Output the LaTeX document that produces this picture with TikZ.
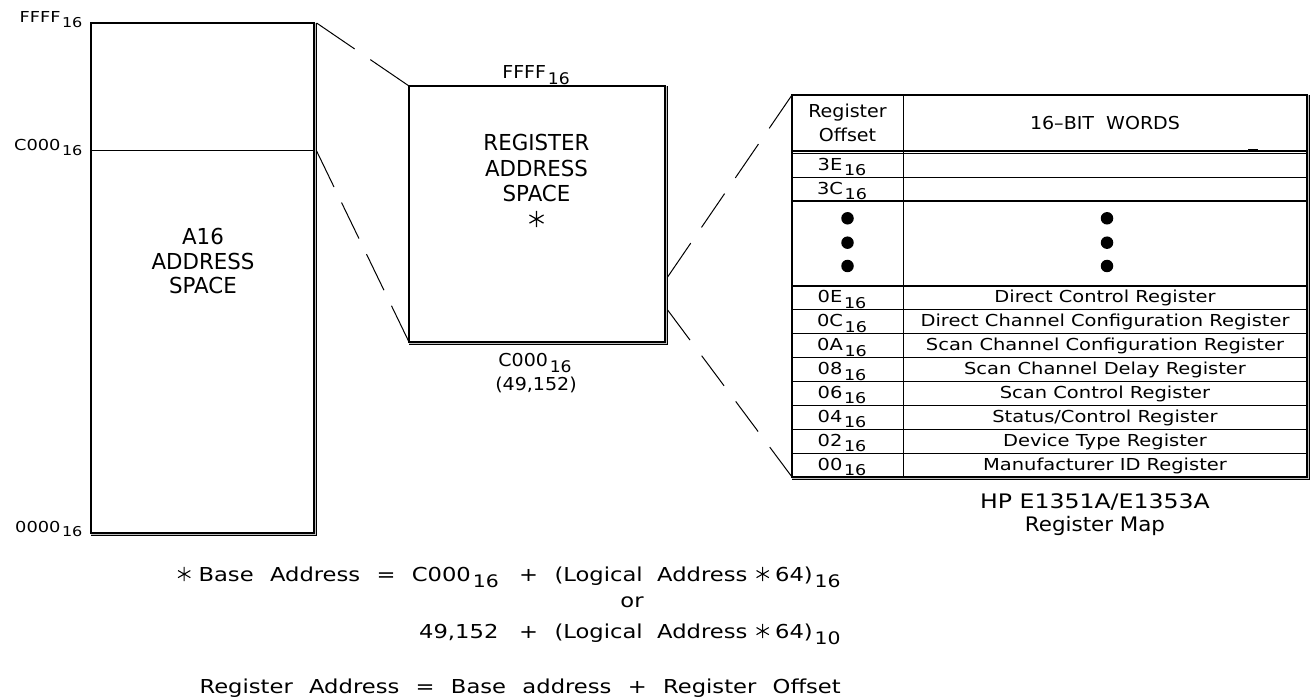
\documentclass[tikz,border=0pt]{standalone}
\usepackage{fontspec}
\usepackage{graphicx}
\setmainfont{DejaVu Sans}[FakeStretch=1.18]
\newfontfamily\capf{DejaVu Sans}[FakeStretch=0.97]
\newfontfamily\midf{DejaVu Sans}[FakeStretch=1.07]
\newcommand\subx[1]{\kern0.1em\raisebox{-0.33em}{\scalebox{0.9}{#1}}}
\newcommand\astk{\tikz[baseline={(0,-0.36em)},x=1em,y=1em,line width=0.055em]{\draw (0,-0.37)--(0,0.37) (-0.32,-0.185)--(0.32,0.185) (-0.32,0.185)--(0.32,-0.185);}}
\newcommand\wsp{\hspace{0.85em}}
\begin{document}
\begin{tikzpicture}[x=1pt,y=-1pt,line width=1.1pt,
  boxs/.style={draw, inner sep=0pt, outer sep=0pt, anchor=north west},
  shadowln/.style={line width=1pt},
  gapfill/.style={gray!50, line width=1.5pt},
  conn/.style={line width=1pt},
  lbl/.style={inner sep=0pt, font=\fontsize{15.1}{18}\selectfont},
  rlbl/.style={inner sep=0pt, font=\midf\fontsize{17.8}{21}\selectfont},
  big/.style={inner sep=0pt, font=\capf\fontsize{22}{26}\selectfont},
  cell/.style={inner sep=0pt, font=\fontsize{16.5}{20}\selectfont},
  hdr/.style={inner sep=0pt, font=\midf\fontsize{17.8}{21}\selectfont},
  capt/.style={inner sep=0pt, font=\fontsize{20}{24}\selectfont},
  captb/.style={inner sep=0pt, font=\midf\fontsize{20}{24}\selectfont},
  frm/.style={inner sep=0pt, font=\fontsize{19.2}{23}\selectfont},
  dot/.style={circle, fill=black, inner sep=0pt, minimum size=12.5pt}
]
\useasboundingbox (0,0) rectangle (1312,700);

% ---------------- A16 box ----------------
\draw[gapfill] (315.3,23) -- (315.3,534.3) -- (91,534.3);
\node[boxs, minimum width=223pt, minimum height=510pt] (a16) at (91,23) {};
\draw[shadowln] (316.6,23) -- (316.6,535.6) -- (91,535.6);
\draw (91,150.7) -- (314,150.7);
\node[lbl, anchor=base east] (lffff) at (83,23) {FFFF\subx{16}};
\node[lbl, anchor=base east] (lc000) at (83,151) {C000\subx{16}};
\node[lbl, anchor=base east] (l0000) at (83,532) {0000\subx{16}};
\node[big, anchor=base] (a16t1) at (203,245) {A16};
\node[big, anchor=base] (a16t2) at (203,270) {ADDRESS};
\node[big, anchor=base] (a16t3) at (203,294) {SPACE};

% ---------------- register box ----------------
\draw[gapfill] (666.3,86) -- (666.3,343.3) -- (409,343.3);
\node[boxs, minimum width=256pt, minimum height=256pt] (reg) at (409,86) {};
\draw[shadowln] (667.6,86) -- (667.6,344.6) -- (409,344.6);
\node[rlbl, anchor=base] (rffff) at (536,79) {FFFF\subx{16}};
\node[rlbl, anchor=base] (rc000) at (535,367) {C000\subx{16}};
\node[rlbl, anchor=base] (rdec) at (536,391) {(49,152)};
\node[big, anchor=base] (rt1) at (536.5,151) {REGISTER};
\node[big, anchor=base] (rt2) at (536.5,176.5) {ADDRESS};
\node[big, anchor=base] (rt3) at (536.5,202) {SPACE};
\node[big, anchor=base] (rt4) at (536.5,227) {\astk};

% ---------------- register map table ----------------
\draw[gapfill] (1308.3,95) -- (1308.3,478.3) -- (792,478.3);
\node[boxs, minimum width=515pt, minimum height=382pt] (tab) at (792,95) {};
\draw[shadowln] (1309.6,95) -- (1309.6,479.6) -- (792,479.6);
\draw (903.3,95) -- (903.3,477);
\draw (792,151) -- (1307,151);
\draw (792,153.4) -- (1307,153.4);
\draw[line width=2pt] (1248,149.6) -- (1258,149.6);
\foreach \yy in {177.3,201,286,309.875,333.75,357.625,381.5,405.375,429.25,453.125}
  \draw (792,\yy) -- (1307,\yy);
\node[hdr, anchor=base] (h1) at (847.5,118) {Register};
\node[hdr, anchor=base] (h2) at (847.5,142) {Offset};
\node[hdr, anchor=base] (h3) at (1105,130) {16–BIT\ \ WORDS};
\node[cell, anchor=base] (o3e) at (842,170.4) {3E\subx{16}};
\node[cell, anchor=base] (o3c) at (842,194.3) {3C\subx{16}};
\node[dot] (d1) at (847.5,218.3) {};
\node[dot] (d2) at (847.5,242.7) {};
\node[dot] (d3) at (847.5,266) {};
\node[dot] (d4) at (1107,218.3) {};
\node[dot] (d5) at (1107,242.7) {};
\node[dot] (d6) at (1107,266) {};
\node[cell, anchor=base] (o0e) at (842,303) {0E\subx{16}};
\node[cell, anchor=base] (o0c) at (842,326.9) {0C\subx{16}};
\node[cell, anchor=base] (o0a) at (842,350.75) {0A\subx{16}};
\node[cell, anchor=base] (o08) at (842,374.6) {08\subx{16}};
\node[cell, anchor=base] (o06) at (842,398.5) {06\subx{16}};
\node[cell, anchor=base] (o04) at (842,422.4) {04\subx{16}};
\node[cell, anchor=base] (o02) at (842,446.25) {02\subx{16}};
\node[cell, anchor=base] (o00) at (842,470.1) {00\subx{16}};
\node[cell, anchor=base] (n0e) at (1105,303) {Direct\ Control\ Register};
\node[cell, anchor=base] (n0c) at (1105,326.9) {Direct\ Channel\ Configuration\ Register};
\node[cell, anchor=base] (n0a) at (1105,350.75) {Scan\ Channel\ Configuration\ Register};
\node[cell, anchor=base] (n08) at (1105,374.6) {Scan\ Channel\ Delay\ Register};
\node[cell, anchor=base] (n06) at (1105,398.5) {Scan\ Control\ Register};
\node[cell, anchor=base] (n04) at (1105,422.4) {Status/Control\ Register};
\node[cell, anchor=base] (n02) at (1105,446.25) {Device\ Type\ Register};
\node[cell, anchor=base] (n00) at (1105,470.1) {Manufacturer\ ID\ Register};
\node[capt, anchor=base] (c1) at (1095,508) {HP\ E1351A/E1353A};
\node[captb, anchor=base] (c2) at (1095,531) {Register\ Map};

% ---------------- connectors ----------------
\coordinate (a16tr) at (316.6,23);
\coordinate (a16mr) at (316.6,151);
\coordinate (regr1) at (667.6,277);
\coordinate (regr2) at (667.6,310);
\draw[conn, dash pattern=on 46pt off 19pt] (a16tr) -- (reg.north west);
\draw[conn, dash pattern=on 40pt off 17.3pt] (a16mr) -- (reg.south west);
\draw[conn, dash pattern=on 41pt off 19pt] (regr1) -- (tab.north west);
\draw[conn, dash pattern=on 37.5pt off 19.5pt] (regr2) -- (tab.south west);

% ---------------- formulas ----------------
\node[frm, anchor=base east] (f1a) at (499,581) {\astk\hspace{0.4em}Base\wsp Address\wsp =\wsp C000\subx{16}};
\node[frm, anchor=base west] (f1b) at (519,581) {+\wsp (Logical\ \ Address\hspace{0.45em}\astk\hspace{0.3em}64)\subx{16}};
\node[frm, anchor=base] (f2) at (632,607) {or};
\node[frm, anchor=base east] (f3a) at (499,638) {49,152};
\node[frm, anchor=base west] (f3b) at (519,638) {+\wsp (Logical\ \ Address\hspace{0.45em}\astk\hspace{0.3em}64)\subx{10}};
\node[frm, anchor=base west] (f4) at (199,693) {Register\wsp Address\wsp =\wsp Base\wsp address\wsp +\wsp Register\wsp Offset};
\end{tikzpicture}
\end{document}
